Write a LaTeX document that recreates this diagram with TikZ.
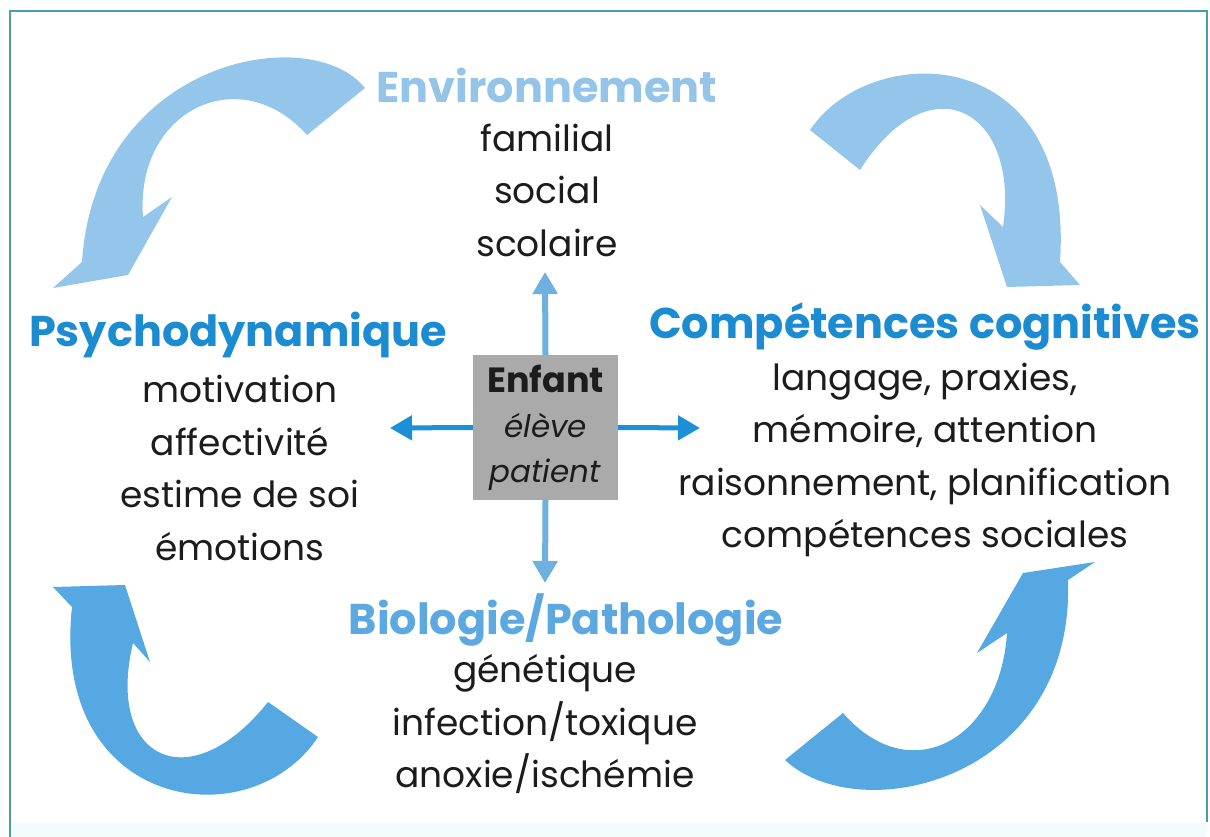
\documentclass[tikz,border=0pt]{standalone}
\usepackage{fontspec}
\setmainfont{Poppins}
\usetikzlibrary{arrows.meta,positioning}
\definecolor{framecol}{RGB}{72,160,166}
\definecolor{bandcol}{RGB}{243,251,251}
\definecolor{darkhead}{RGB}{28,140,210}
\definecolor{palehead}{RGB}{148,196,232}
\definecolor{midhead}{RGB}{92,168,224}
\definecolor{palearrow}{RGB}{148,198,235}
\definecolor{midarrow}{RGB}{86,168,226}
\definecolor{vlinkcol}{RGB}{110,176,224}
\definecolor{hlinkcol}{RGB}{28,144,214}
\definecolor{boxgrey}{RGB}{170,170,170}
\definecolor{ink}{RGB}{28,28,28}
\tikzset{
    >={Triangle[length=22pt,width=24pt]},
    head/.style={font=\fontsize{43}{50}\selectfont\bfseries,inner sep=0pt},
    items/.style={font=\fontsize{36}{52.5}\selectfont,align=center,text=ink,inner sep=0pt},
    vlink/.style={->,draw=vlinkcol,line width=6pt},
    hlink/.style={->,draw=hlinkcol,line width=5pt}
}

\begin{document}
\begin{tikzpicture}[x=1pt,y=-1pt]
    \useasboundingbox (0,0) rectangle (1210,837);

    % frame, open at the bottom
    \fill[bandcol] (11,823) rectangle (1206,837);
    \draw[framecol,line width=2pt] (10,837) -- (10,11) -- (1207,11) -- (1207,822);

    % curved arrows in the corners
    \fill[palearrow] (365,88) .. controls (310,20) and (95,60) .. (82,262)
        -- (53,288) -- (128,275) -- (172,197) -- (143,217)
        .. controls (135,110) and (240,60) .. (307,135) -- cycle;
    \fill[palearrow] (810,130) .. controls (870,40) and (1075,40) .. (1060,262)
        -- (1080,285) -- (1007,287) -- (980,205) -- (1003,227)
        .. controls (1020,110) and (930,60) .. (860,170) -- cycle;
    \fill[midarrow] (318,737) .. controls (250,840) and (50,810) .. (72,607)
        -- (53,587) -- (125,585) -- (150,662) -- (133,643)
        .. controls (105,760) and (190,800) .. (268,702) -- cycle;
    \fill[midarrow] (785,760) .. controls (860,830) and (1075,780) .. (1068,580)
        -- (1095,562) -- (1023,573) -- (977,653) -- (1007,633)
        .. controls (1000,740) and (910,790) .. (843,713) -- cycle;

    % the child in the middle
    \node[fill=boxgrey,minimum width=145pt,minimum height=145pt,inner sep=0pt,
          align=center,text=ink,font=\fontsize{31}{45}\selectfont] (enfant) at (545.5,427.5)
        {{\fontsize{35}{45}\selectfont\bfseries Enfant}\\\textit{élève}\\\textit{patient}};

    % the four fields
    \node[head,text=palehead] (envhead) at (547,85) {Environnement};
    \node[items] (envlist) at (547,190) {familial\\social\\scolaire};

    \node[head,text=darkhead] (psyhead) at (238,335) {Psychodynamique};
    \node[items] (psylist) at (240,468) {motivation\\affectivité\\estime de soi\\émotions};

    \node[head,text=darkhead] (coghead) at (925,326) {Compétences cognitives};
    \node[items] (coglist) at (925,460) {langage, praxies,\\mémoire, attention\\raisonnement, planification\\compétences sociales};

    \node[head,text=midhead] (biohead) at (566,620) {Biologie/Pathologie};
    \node[items] (biolist) at (545,724) {génétique\\infection/toxique\\anoxie/ischémie};

    % links from the child
    \coordinate (uptip) at (545,272);
    \coordinate (downtip) at (545,583);
    \coordinate (lefttip) at (390,428);
    \coordinate (righttip) at (700,428);
    \draw[vlink] (enfant.north) -- (uptip);
    \draw[vlink] (enfant.south) -- (downtip);
    \draw[hlink] (enfant.west) -- (lefttip);
    \draw[hlink] (enfant.east) -- (righttip);
\end{tikzpicture}
\end{document}
